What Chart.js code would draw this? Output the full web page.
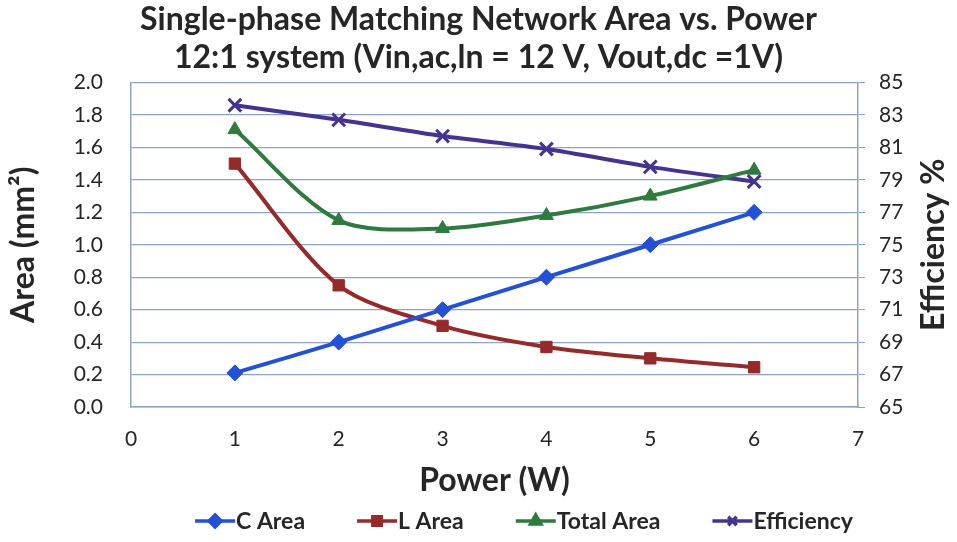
<!DOCTYPE html>
<html>
<head>
<meta charset="utf-8">
<script src="https://cdn.jsdelivr.net/npm/chart.js@4.4.0/dist/chart.umd.min.js"></script>
<style>
  html, body { margin: 0; padding: 0; background: #fff; }
  #wrap { width: 957px; height: 542px; }
</style>
</head>
<body>
<div id="wrap"><canvas id="chart" width="957" height="542"></canvas></div>
<script>
// data
const powerW = [1, 2, 3, 4, 5, 6];
const cArea = [0.21, 0.40, 0.60, 0.80, 1.00, 1.20];
const lArea = [1.50, 0.75, 0.50, 0.37, 0.30, 0.245];
const totalArea = [1.71, 1.15, 1.10, 1.18, 1.30, 1.46];
const efficiency = [83.6, 82.7, 81.7, 80.9, 79.8, 78.9];

const titleLines = [
  "Single-phase Matching Network Area vs. Power",
  "12:1 system (Vin,ac,ln = 12 V, Vout,dc =1V)",
];
const rightTitle = "Efficiency %";
const FONT = "Lato, 'Open Sans', sans-serif";
const TEXT = "#262626";
const GRID = "#8da3c6";

function pts(ys) {
  return powerW.map((x, i) => ({ x, y: ys[i] }));
}

function series(label, ys, color, style, axis, radius) {
  return {
    label,
    data: pts(ys),
    borderColor: color,
    backgroundColor: color,
    borderWidth: 4,
    pointStyle: style,
    pointRadius: radius,
    pointBorderWidth: style === "crossRot" ? 3 : 1,
    tension: 0.3,
    yAxisID: axis,
  };
}

// line + marker legend like the original, plus the right axis title read bottom-up
const extras = {
  id: "extras",
  afterDraw(chart) {
    const ctx = chart.ctx;
    ctx.save();

    // right axis title
    const r = chart.scales.y1;
    ctx.font = "bold 32px " + FONT;
    ctx.fillStyle = TEXT;
    ctx.textAlign = "center";
    ctx.textBaseline = "middle";
    ctx.translate(934, (r.top + r.bottom) / 2);
    ctx.rotate(-Math.PI / 2);
    ctx.fillText(rightTitle, 0, 0);
    ctx.setTransform(1, 0, 0, 1, 0, 0);

    // legend
    const y = 521;
    const lineLen = 40, gap = 52;
    const legendFont = "bold 23px " + FONT;
    ctx.font = legendFont;
    const items = chart.data.datasets.map((ds) => ({
      ds,
      w: lineLen + 1 + ctx.measureText(ds.label).width,
    }));
    const total = items.reduce((s, it) => s + it.w, 0) + gap * (items.length - 1);
    let x = 524 - total / 2;
    items.forEach(({ ds, w }) => {
      ctx.strokeStyle = ds.borderColor;
      ctx.lineWidth = 3.5;
      ctx.beginPath();
      ctx.moveTo(x, y);
      ctx.lineTo(x + lineLen, y);
      ctx.stroke();
      ctx.fillStyle = ds.backgroundColor;
      Chart.helpers.drawPoint(ctx, {
        pointStyle: ds.pointStyle,
        radius: 6,
        borderWidth: ds.pointStyle === "crossRot" ? 2 : 1,
      }, x + lineLen / 2, y);
      ctx.font = legendFont;
      ctx.fillStyle = TEXT;
      ctx.textBaseline = "middle";
      ctx.textAlign = "left";
      ctx.fillText(ds.label, x + lineLen + 1, y + 1);
      x += w + gap;
    });
    ctx.restore();
  },
};

new Chart(document.getElementById("chart"), {
  type: "line",
  data: {
    datasets: [
      series("C Area", cArea, "#2450d6", "rectRot", "y", 8),
      series("L Area", lArea, "#952a2a", "rect", "y", 8),
      series("Total Area", totalArea, "#2f7a3e", "triangle", "y", 8),
      series("Efficiency", efficiency, "#45338f", "crossRot", "y1", 9),
    ],
  },
  options: {
    responsive: false,
    animation: false,
    layout: { padding: { top: 0, bottom: 42, left: 0, right: 0 } },
    plugins: {
      legend: { display: false },
      tooltip: { enabled: false },
      title: {
        display: true,
        text: titleLines,
        color: TEXT,
        font: { family: FONT, size: 32, weight: "bold", lineHeight: 1.18 },
        padding: { top: 1, bottom: 6 },
      },
    },
    scales: {
      x: {
        type: "linear",
        min: 0,
        max: 7,
        ticks: { stepSize: 1, color: TEXT, font: { family: FONT, size: 21 }, padding: 14 },
        grid: { display: false, drawTicks: true, tickLength: 6 },
        border: { color: GRID, width: 1.5 },
        title: {
          display: true,
          text: "Power (W)",
          color: TEXT,
          font: { family: FONT, size: 32, weight: "bold" },
          padding: { top: 0, bottom: 0 },
        },
        afterFit(scale) { scale.height = 93; },
      },
      y: {
        position: "left",
        min: 0,
        max: 2,
        ticks: {
          stepSize: 0.2,
          color: TEXT,
          font: { family: FONT, size: 21 },
          padding: 28,
          callback: (v) => v.toFixed(1),
        },
        grid: { color: GRID, lineWidth: 1.2, drawTicks: false },
        border: { color: GRID, width: 1.5 },
        title: {
          display: true,
          text: "Area (mm²)",
          color: TEXT,
          font: { family: FONT, size: 32, weight: "bold" },
          padding: { top: 4, bottom: 0 },
        },
        afterFit(scale) { scale.width = 131; },
      },
      y1: {
        position: "right",
        min: 65,
        max: 85,
        ticks: { stepSize: 2, color: TEXT, font: { family: FONT, size: 21 }, padding: 14 },
        grid: { drawOnChartArea: false, color: GRID, tickLength: 7 },
        border: { color: GRID, width: 1.5 },
        title: { display: false },
        afterFit(scale) { scale.width = 99; },
      },
    },
  },
  plugins: [extras],
});
</script>
</body>
</html>
